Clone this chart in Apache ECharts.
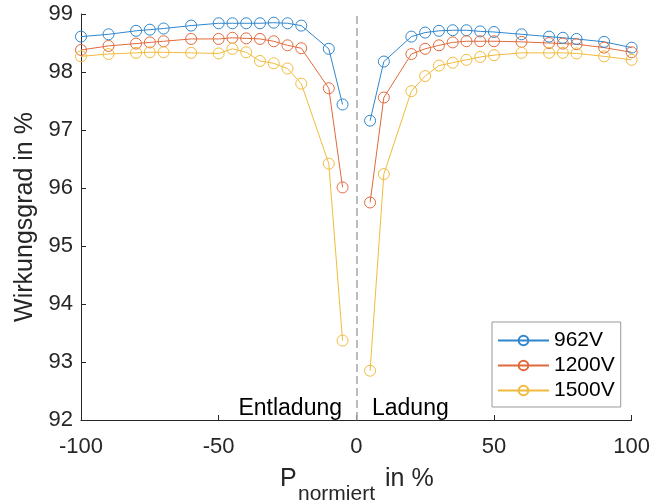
<!DOCTYPE html>
<html>
<head>
<meta charset="utf-8">
<script src="https://cdn.jsdelivr.net/npm/echarts@6/dist/echarts.min.js"></script>
<style>html,body{margin:0;padding:0;background:#fff;}#c{width:653px;height:504px;}</style>
</head>
<body>
<div id="c"></div>
<script>
const xValues = [-100,-90,-80,-75,-70,-60,-50,-45,-40,-35,-30,-25,-20,-10,-5, 0, 5,10,20,25,30,35,40,45,50,60,70,75,80,90,100];
const v962 = [98.61,98.65,98.71,98.73,98.75,98.80,98.84,98.84,98.84,98.84,98.85,98.84,98.80,98.40,97.44, null,
              97.16,98.18,98.61,98.68,98.71,98.72,98.72,98.70,98.69,98.65,98.61,98.59,98.57,98.52,98.42];
const v1200 = [98.38,98.45,98.49,98.51,98.53,98.57,98.57,98.59,98.58,98.57,98.53,98.46,98.41,97.72,96.01, null,
               95.75,97.56,98.31,98.40,98.46,98.51,98.53,98.53,98.53,98.52,98.50,98.49,98.48,98.42,98.34];
const v1500 = [98.27,98.31,98.33,98.34,98.34,98.33,98.32,98.40,98.34,98.19,98.15,98.06,97.80,96.42,93.37, null,
               92.85,96.24,97.67,97.93,98.11,98.16,98.21,98.26,98.29,98.33,98.33,98.33,98.32,98.27,98.21];
const seriesNames = ['962V','1200V','1500V'];
const xTicks = [-100,-50,0,50,100];
const yTicks = [92,93,94,95,96,97,98,99];
const dividerX = 0;
const sideLabels = ['Entladung','Ladung'];

const colors = ['#2f86cc','#e06a3c','#f0bb3c'];
const font = "'Liberation Sans', Arial, Helvetica, sans-serif";
const pair = (vals) => xValues.map((x,i) => [x, vals[i]]);

const chart = echarts.init(document.getElementById('c'), null, {renderer:'canvas'});
const mk = (name, vals, color) => ({
  name, type:'line', data: pair(vals), symbol:'circle', symbolSize:11,
  connectNulls:false, showSymbol:true, z:3,
  lineStyle:{color, width:1}, itemStyle:{color:'rgba(0,0,0,0)', borderColor:color, borderWidth:1},
  emphasis:{disabled:true}, animation:false
});

chart.setOption({
  animation:false,
  textStyle:{fontFamily:font},
  grid:{left:81, right:20, top:14, bottom:84},
  xAxis:{
    type:'value', min:xTicks[0], max:xTicks[xTicks.length-1], interval:50,
    axisLine:{show:true, onZero:false, lineStyle:{color:'#262626', width:1}},
    axisTick:{show:true, inside:true, length:5, lineStyle:{color:'#262626'}},
    axisLabel:{color:'#262626', fontSize:22, margin:16, fontFamily:font},
    splitLine:{show:false}
  },
  yAxis:{
    type:'value', min:yTicks[0], max:yTicks[yTicks.length-1], interval:1,
    axisLine:{show:true, onZero:false, lineStyle:{color:'#262626', width:1}},
    axisTick:{show:true, inside:true, length:5, lineStyle:{color:'#262626'}},
    axisLabel:{color:'#262626', fontSize:22, margin:8, fontFamily:font},
    splitLine:{show:false},
    name:'Wirkungsgrad in %', nameLocation:'middle', nameGap:42, nameRotate:90,
    nameTextStyle:{color:'#262626', fontSize:25, fontFamily:font}
  },
  legend:{
    orient:'vertical', left:492, top:322,
    data:seriesNames,
    itemWidth:51, itemHeight:12, itemGap:4,
    padding:[8,6,6,5],
    backgroundColor:'#fff', borderColor:'#999999', borderWidth:1, borderRadius:0,
    textStyle:{fontSize:21, color:'#000', fontFamily:font},
    selectedMode:false
  },
  series:[
    {
      name:'divider', type:'line', data:[], z:1, silent:true,
      markLine:{
        silent:true, symbol:['none','none'], label:{show:false},
        lineStyle:{color:'#ababab', type:[8,4], width:1.6, opacity:1},
        emphasis:{disabled:true},
        data:[{xAxis:dividerX}]
      }
    },
    mk(seriesNames[0], v962, colors[0]),
    mk(seriesNames[1], v1200, colors[1]),
    mk(seriesNames[2], v1500, colors[2])
  ],
  graphic:[
    {type:'text', x:342, y:409, style:{text:sideLabels[0], fill:'#000', font:'23px '+font, align:'right', verticalAlign:'middle'}},
    {type:'text', x:372, y:409, style:{text:sideLabels[1], fill:'#000', font:'23px '+font, align:'left', verticalAlign:'middle'}},
    {type:'text', x:280, y:479, style:{text:'P', fill:'#262626', font:'25px '+font, align:'left', verticalAlign:'middle'}},
    {type:'text', x:298, y:494, style:{text:'normiert', fill:'#262626', font:'21px '+font, align:'left', verticalAlign:'middle'}},
    {type:'text', x:385, y:479, style:{text:'in %', fill:'#262626', font:'25px '+font, align:'left', verticalAlign:'middle'}}
  ]
});
</script>
</body>
</html>
